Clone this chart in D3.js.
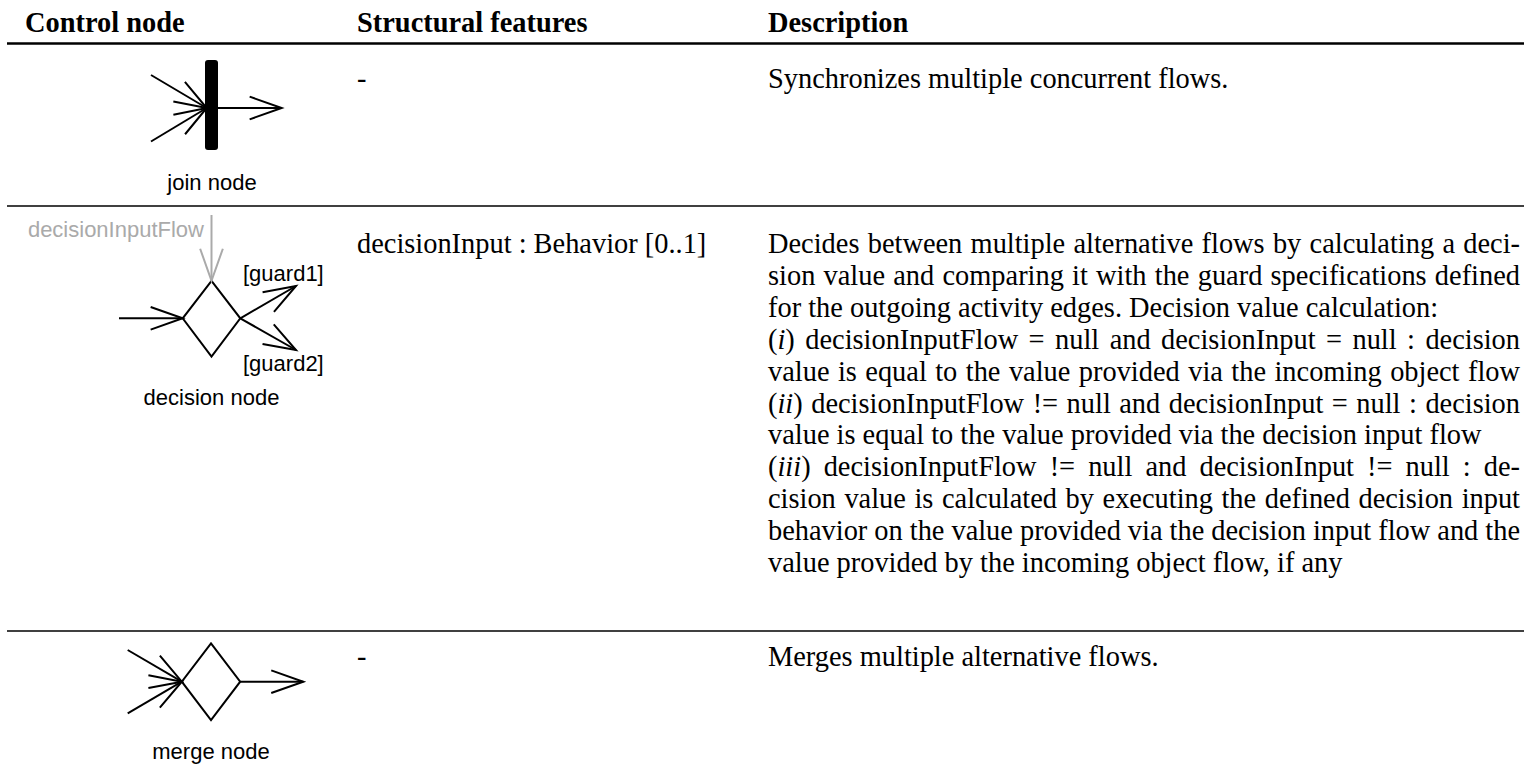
<!DOCTYPE html>
<html>
<head>
<meta charset="utf-8">
<script src="https://cdn.jsdelivr.net/npm/d3@7"></script>
<style>
  html, body { margin: 0; padding: 0; background: #fff; }
  svg { display: block; }
</style>
</head>
<body>
<div id="chart"></div>
<script>
// ---------------- data ----------------
const columns = ["Control node", "Structural features", "Description"];
const nodeNames = ["join node", "decision node", "merge node"];
const features = ["-", "decisionInput : Behavior [0..1]", "-"];
// $...$ marks math-italic parts; "J" = justified line, "N" = natural width line
const descriptions = [
  [["Synchronizes multiple concurrent flows.", "N"]],
  [
    ["Decides between multiple alternative flows by calculating a deci-", "J"],
    ["sion value and comparing it with the guard specifications defined", "J"],
    ["for the outgoing activity edges. Decision value calculation:", "N"],
    ["($i$) decisionInputFlow = null and decisionInput = null : decision", "J"],
    ["value is equal to the value provided via the incoming object flow", "J"],
    ["($ii$) decisionInputFlow != null and decisionInput = null : decision", "J"],
    ["value is equal to the value provided via the decision input flow", "N"],
    ["($iii$) decisionInputFlow != null and decisionInput != null : de-", "J"],
    ["cision value is calculated by executing the defined decision input", "J"],
    ["behavior on the value provided via the decision input flow and the", "J"],
    ["value provided by the incoming object flow, if any", "N"]
  ],
  [["Merges multiple alternative flows.", "N"]]
];
const decisionLabels = ["decisionInputFlow", "[guard1]", "[guard2]"];

// ---------------- layout ----------------
const W = 1524, H = 773;
const serif = "'Liberation Serif', 'Times New Roman', Times, serif";
const sans = "'Liberation Sans', Arial, Helvetica, sans-serif";
const FS = 28.4;          // table text size
const LS = 31.9;          // line spacing
const colX = d3.scaleOrdinal().domain(columns).range([25, 357, 768]);
const textRight = 1520;
const rowBaseline = d3.scaleOrdinal().domain(nodeNames).range([88, 253, 666]);
const ruleY = [43.5, 206, 631];
const ruleW = [2.6, 1.4, 1.4];

const svg = d3.select("#chart").append("svg")
  .attr("width", W).attr("height", H).attr("viewBox", `0 0 ${W} ${H}`);

// header
svg.append("g").selectAll("text").data(columns).join("text")
  .attr("x", d => colX(d)).attr("y", 32)
  .attr("font-family", serif).attr("font-weight", "bold").attr("font-size", FS)
  .attr("fill", "#000").text(d => d);

// rules
svg.append("g").selectAll("line").data(ruleY).join("line")
  .attr("x1", 7).attr("x2", W).attr("y1", d => d).attr("y2", d => d)
  .attr("stroke", "#000").attr("stroke-width", (d, i) => ruleW[i]);

// structural features
svg.append("g").selectAll("text").data(features).join("text")
  .attr("x", colX(columns[1])).attr("y", (d, i) => rowBaseline(nodeNames[i]))
  .attr("font-family", serif).attr("font-size", FS).attr("fill", "#000").text(d => d);

// descriptions
const descG = svg.append("g");
descriptions.forEach((lines, r) => {
  lines.forEach(([str, mode], k) => {
    const t = descG.append("text")
      .attr("x", colX(columns[2]))
      .attr("y", rowBaseline(nodeNames[r]) + k * LS)
      .attr("font-family", serif).attr("font-size", FS).attr("fill", "#000")
      .attr("xml:space", "preserve");
    str.split(/\$(.*?)\$/).forEach((part, j) => {
      if (!part) return;
      const ts = t.append("tspan").text(part);
      if (j % 2 === 1) ts.attr("font-style", "italic");
    });
    const target = textRight - colX(columns[2]);
    const len = t.node().getComputedTextLength();
    const nSp = (str.match(/ /g) || []).length;
    if (nSp > 0 && (mode === "J" || len > target)) {
      t.style("word-spacing", ((target - len) / nSp) + "px");
    }
  });
});

// ---------------- diagrams ----------------
const HEAD = 34, ANG = 19.5 * Math.PI / 180;
const lineGen = d3.line();
function arrow(g, from, to, color) {
  const a = Math.atan2(to[1] - from[1], to[0] - from[0]);
  const arm = s => [to[0] - HEAD * Math.cos(a + s * ANG), to[1] - HEAD * Math.sin(a + s * ANG)];
  g.append("path").attr("d", lineGen([from, to]))
    .attr("stroke", color).attr("stroke-width", 2).attr("fill", "none");
  g.append("path").attr("d", lineGen([arm(1), to, arm(-1)]))
    .attr("stroke", color).attr("stroke-width", 2).attr("fill", "none")
    .attr("stroke-linejoin", "miter");
}
function label(g, txt, x, y, anchor, color) {
  g.append("text").attr("x", x).attr("y", y).attr("text-anchor", anchor)
    .attr("font-family", sans).attr("font-size", 22).attr("fill", color).text(txt);
}
function diamond(g, hw, hTop, hBot) {
  g.append("path").attr("d", lineGen([[0, -hTop], [hw, 0], [0, hBot], [-hw, 0]]) + "Z")
    .attr("stroke", "#000").attr("stroke-width", 2).attr("fill", "none");
}

// join node
const gJoin = svg.append("g").attr("transform", "translate(211,108)");
gJoin.append("rect").attr("x", -6).attr("y", -48).attr("width", 13).attr("height", 90)
  .attr("rx", 3).attr("fill", "#000");
arrow(gJoin, [-60, -33], [-4.3, 0], "#000");
arrow(gJoin, [-60, 33.5], [-4.3, 0], "#000");
arrow(gJoin, [7, 0], [70.7, 0], "#000");
label(gJoin, nodeNames[0], 1, 82, "middle", "#000");

// decision node
const gDec = svg.append("g").attr("transform", "translate(211.5,318.3)");
diamond(gDec, 28.8, 37.5, 38.4);
arrow(gDec, [-92.5, 0], [-28.8, 0], "#000");
arrow(gDec, [0, -103.3], [0, -37.5], "#aaaaaa");
arrow(gDec, [28.8, 0], [84.5, -32.3], "#000");
arrow(gDec, [28.8, 0], [84.5, 31.7], "#000");
label(gDec, decisionLabels[0], -7.5, -81.3, "end", "#aaaaaa");
label(gDec, decisionLabels[1], 31.5, -37, "start", "#000");
label(gDec, decisionLabels[2], 31.5, 53, "start", "#000");
label(gDec, nodeNames[1], 0, 87, "middle", "#000");

// merge node
const gMerge = svg.append("g").attr("transform", "translate(211,681.7)");
diamond(gMerge, 29.2, 38.4, 38.3);
arrow(gMerge, [-83.3, -31.7], [-29.2, 0], "#000");
arrow(gMerge, [-83.3, 31.6], [-29.2, 0], "#000");
arrow(gMerge, [29.2, 0], [92.3, 0], "#000");
label(gMerge, nodeNames[2], 0, 77.5, "middle", "#000");
</script>
</body>
</html>
